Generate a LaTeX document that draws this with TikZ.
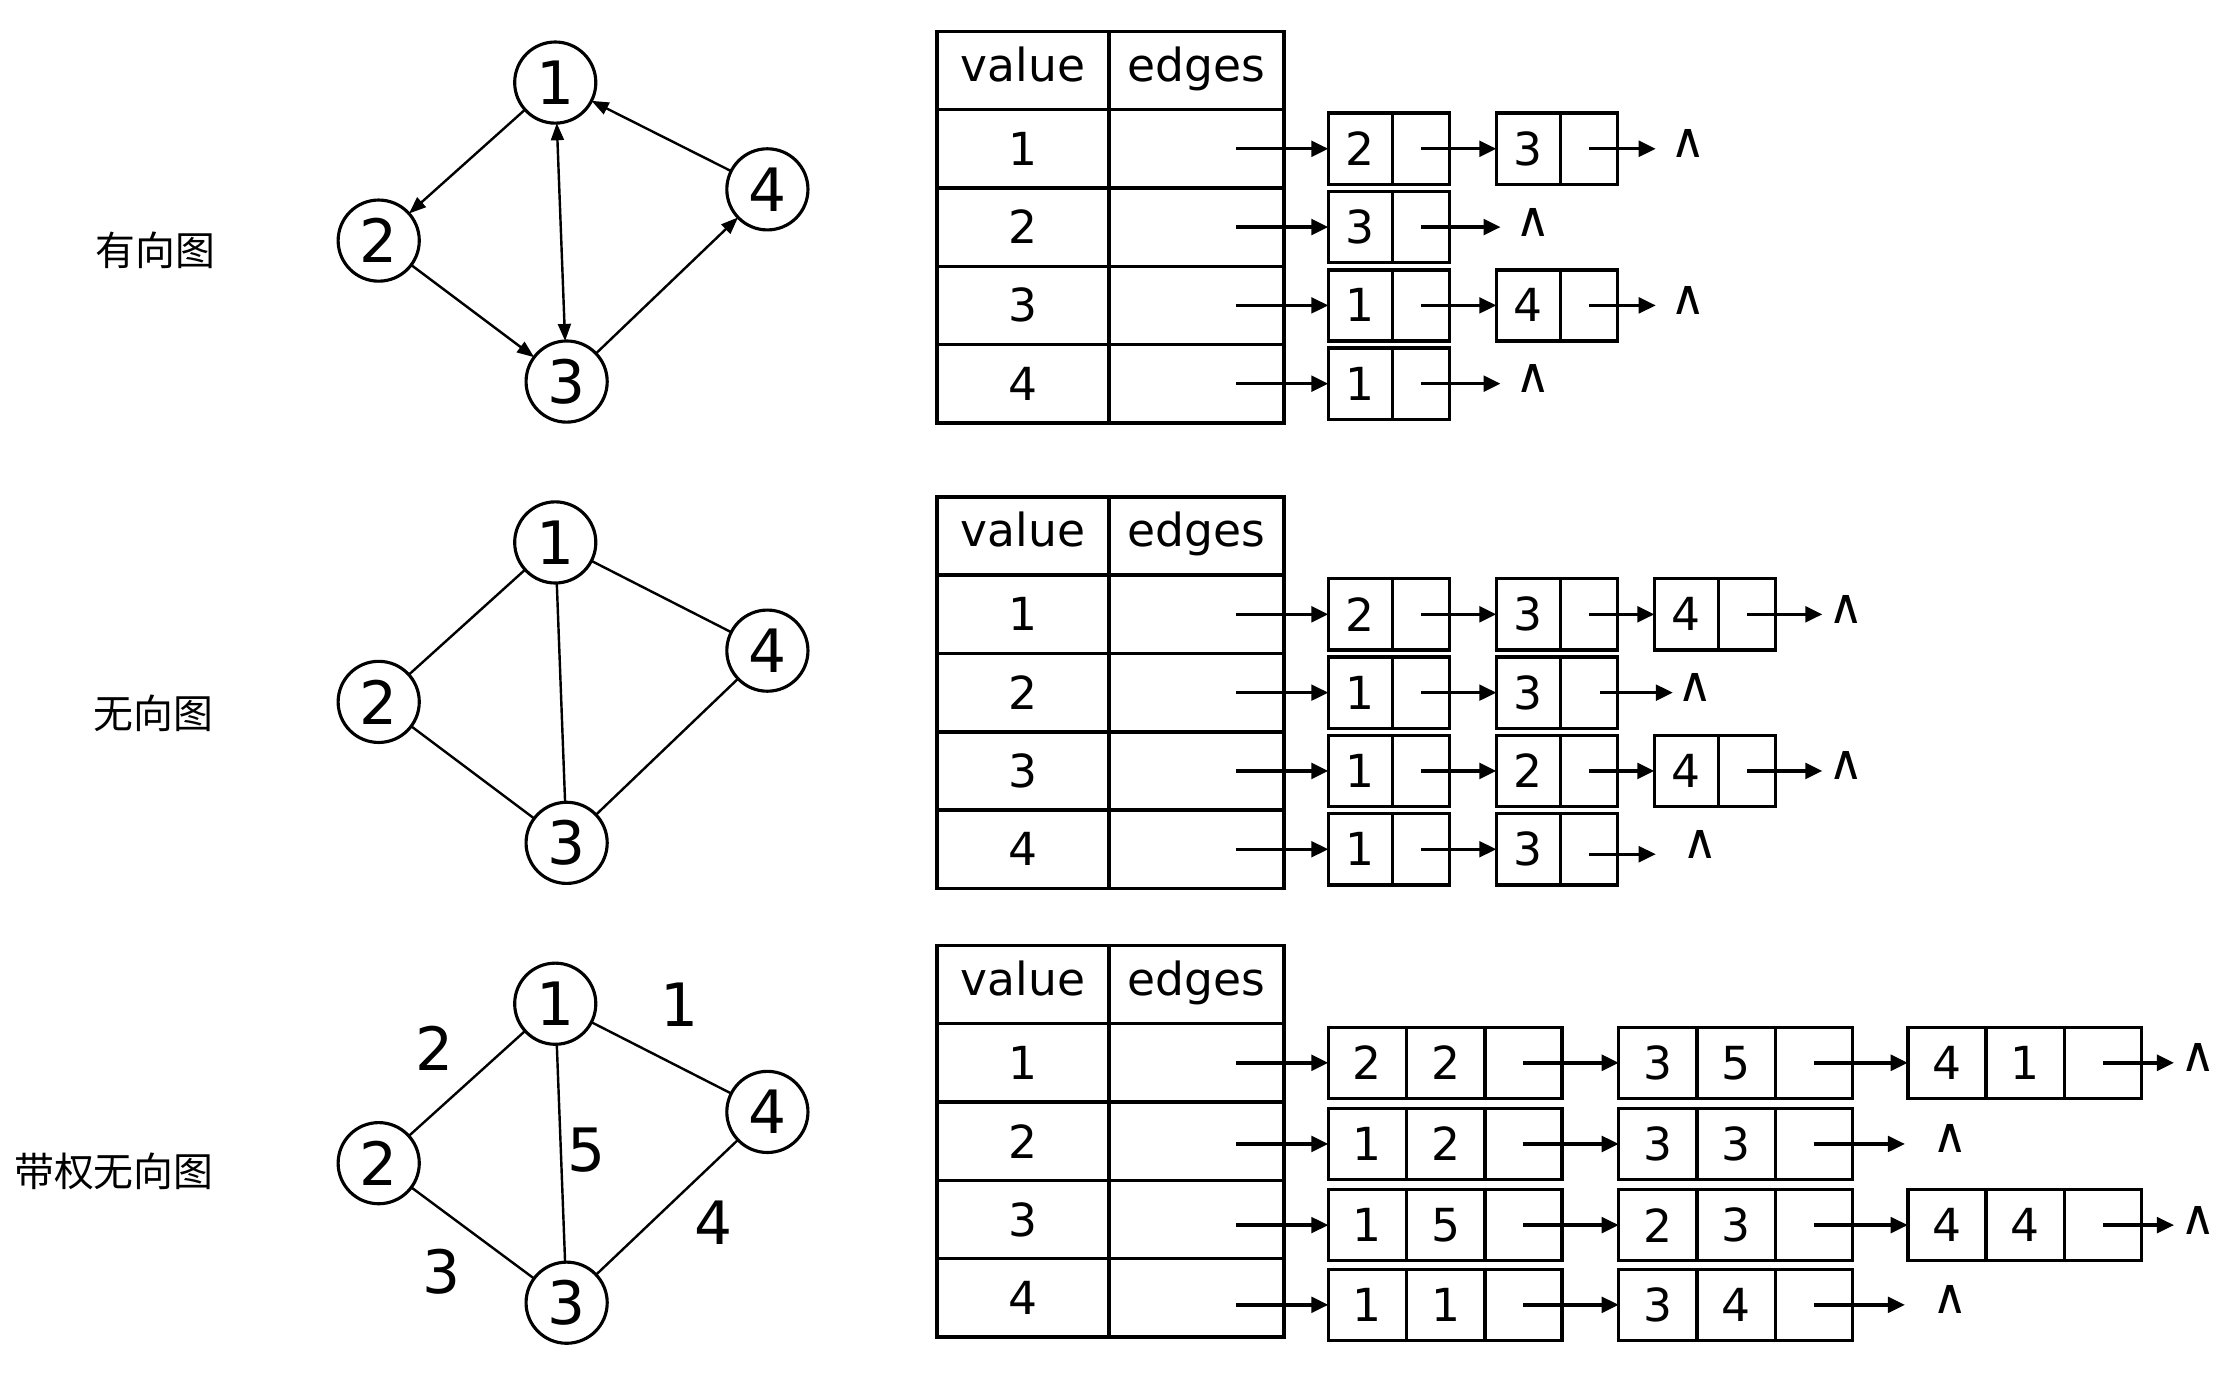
\documentclass[tikz,border=0pt]{standalone}
\usepackage{fontspec}
\setmainfont{DejaVu Sans}
\newfontfamily\cjk{Noto Sans CJK SC}
\usetikzlibrary{arrows.meta,calc}

\newcommand{\gtable}[2]{% prefix, top y
  \node[tcell,hdr,anchor=north west,minimum width=60.5pt] (#1h1) at (658,#2) {value};
  \node[tcell,hdr,anchor=north west,minimum width=61.5pt] (#1h2) at (779,#2) {edges};
  \foreach \i in {1,...,4}{
    \node[tcell,anchor=north west,minimum width=60.5pt] (#1v\i) at (658,{#2+55*\i}) {\i};
    \node[tcell,anchor=north west,minimum width=61.5pt] (#1e\i) at (779,{#2+55*\i}) {};
  }}
\newcommand{\twobox}[4]{% name, x, y, value
  \node[lcell,anchor=west,minimum width=22.5pt] (#1) at (#2,#3) {#4};
  \node[lcell,anchor=west,minimum width=20pt] (#1p) at (#1.east) {};}
\newcommand{\threebox}[5]{% name, x, y, v1, v2
  \node[lcell,anchor=west,minimum width=27.5pt] (#1) at (#2,#3) {#4};
  \node[lcell,anchor=west,minimum width=27.5pt] (#1w) at (#1.east) {#5};
  \node[lcell,anchor=west,minimum width=27pt] (#1p) at (#1w.east) {};}

\begin{document}
\begin{tikzpicture}[x=0.5pt,y=-0.5pt,
  vert/.style={circle,draw,line width=1.1pt,minimum size=28.5pt,inner sep=0pt,outer sep=0pt,
    font=\fontsize{21pt}{21pt}\selectfont},
  gedge/.style={line width=0.85pt},
  garr/.style={gedge,-{Triangle[length=6pt,width=4.5pt]}},
  gdarr/.style={gedge,{Triangle[length=6pt,width=4.5pt]}-{Triangle[length=6pt,width=4.5pt]}},
  wlab/.style={font=\fontsize{21pt}{21pt}\selectfont,inner sep=0pt},
  tcell/.style={draw,line width=1.2pt,minimum height=27.5pt,inner sep=0pt,outer sep=0pt,
    font=\fontsize{16pt}{16pt}\selectfont},
  hdr/.style={text height=0.95em,text depth=0.2em},
  lcell/.style={draw,line width=1.2pt,minimum height=25pt,inner sep=0pt,outer sep=0pt,
    font=\fontsize{16pt}{16pt}\selectfont},
  larr/.style={line width=1.2pt,-{Triangle[length=6pt,width=5.5pt]}},
  nul/.style={inner sep=0pt,font=\fontsize{17pt}{17pt}\selectfont},
  cjklab/.style={font=\cjk\fontsize{14pt}{14pt}\selectfont,inner sep=0pt}]
\useasboundingbox (0,0) rectangle (1560,974);

% ---------------- section 1: directed graph ----------------
\node[cjklab] (L1) at (109,176) {有向图};
\node[vert] (a1) at (390,58) {1};
\node[vert] (a2) at (266,169) {2};
\node[vert] (a3) at (398,268) {3};
\node[vert] (a4) at (539,133) {4};
\draw[garr] (a1) -- (a2);
\draw[garr] (a2) -- (a3);
\draw[gdarr] (a1) -- (a3);
\draw[garr] (a3) -- (a4);
\draw[garr] (a4) -- (a1);

\gtable{A}{22}
\twobox{A1a}{933}{104.5}{2}
\twobox{A1b}{1051}{104.5}{3}
\twobox{A2a}{933}{159.5}{3}
\twobox{A3a}{933}{214.5}{1}
\twobox{A3b}{1051}{214.5}{4}
\twobox{A4a}{933}{269.5}{1}
\foreach \r in {1,...,4}{\draw[larr] ($(Ae\r.east)+(-34,0)$) -- (A\r a.west);}
\draw[larr] (A1ap.center) -- (A1b.west);
\draw[larr] (A3ap.center) -- (A3b.west);
\coordinate (Ae1x) at (1163,104.5);
\coordinate (Ae2x) at (1054,159.5);
\coordinate (Ae3x) at (1163,214.5);
\coordinate (Ae4x) at (1054,269.5);
\draw[larr] (A1bp.center) -- (Ae1x);
\draw[larr] (A2ap.center) -- (Ae2x);
\draw[larr] (A3bp.center) -- (Ae3x);
\draw[larr] (A4ap.center) -- (Ae4x);
\node[nul] (Az1) at (1186,101) {∧};
\node[nul] (Az2) at (1077,156) {∧};
\node[nul] (Az3) at (1186,211) {∧};
\node[nul] (Az4) at (1077,266) {∧};

% ---------------- section 2: undirected graph ----------------
\node[cjklab] (L2) at (108,501) {无向图};
\node[vert] (b1) at (390,381) {1};
\node[vert] (b2) at (266,493) {2};
\node[vert] (b3) at (398,592) {3};
\node[vert] (b4) at (539,457) {4};
\draw[gedge] (b1) -- (b2);
\draw[gedge] (b1) -- (b3);
\draw[gedge] (b1) -- (b4);
\draw[gedge] (b2) -- (b3);
\draw[gedge] (b3) -- (b4);

\gtable{B}{349}
\twobox{B1a}{933}{431.5}{2}
\twobox{B1b}{1051}{431.5}{3}
\twobox{B1c}{1162}{431.5}{4}
\twobox{B2a}{933}{486.5}{1}
\twobox{B2b}{1051}{486.5}{3}
\twobox{B3a}{933}{541.5}{1}
\twobox{B3b}{1051}{541.5}{2}
\twobox{B3c}{1162}{541.5}{4}
\twobox{B4a}{933}{596.5}{1}
\twobox{B4b}{1051}{596.5}{3}
\foreach \r in {1,...,4}{\draw[larr] ($(Be\r.east)+(-34,0)$) -- (B\r a.west);
  \draw[larr] (B\r ap.center) -- (B\r b.west);}
\draw[larr] (B1bp.center) -- (B1c.west);
\draw[larr] (B3bp.center) -- (B3c.west);
\coordinate (Be1x) at (1280,431.5);
\coordinate (Be2x) at (1175,486.5);
\coordinate (Be3x) at (1280,541.5);
\coordinate (Be4x) at (1163,600);
\draw[larr] (B1cp.center) -- (Be1x);
\draw[larr] ([xshift=4pt]B2bp.center) -- (Be2x);
\draw[larr] (B3cp.center) -- (Be3x);
\draw[larr] (B4bp.center |- Be4x) -- (Be4x);
\node[nul] (Bz1) at (1297,428) {∧};
\node[nul] (Bz2) at (1191,483) {∧};
\node[nul] (Bz3) at (1297,538) {∧};
\node[nul] (Bz4) at (1194,593) {∧};

% ---------------- section 3: weighted undirected graph ----------------
\node[cjklab] (L3) at (80,823) {带权无向图};
\node[vert] (c1) at (390,705) {1};
\node[vert] (c2) at (266,817) {2};
\node[vert] (c3) at (398,915) {3};
\node[vert] (c4) at (539,781) {4};
\draw[gedge] (c1) -- (c2);
\draw[gedge] (c1) -- (c3);
\draw[gedge] (c1) -- (c4);
\draw[gedge] (c2) -- (c3);
\draw[gedge] (c3) -- (c4);
\node[wlab] (w12) at (305,736) {2};
\node[wlab] (w14) at (477,706) {1};
\node[wlab] (w13) at (412,808) {5};
\node[wlab] (w23) at (310,893) {3};
\node[wlab] (w34) at (501,859) {4};

\gtable{C}{664}
\threebox{C1a}{933}{746.5}{2}{2}
\threebox{C1b}{1137}{746.5}{3}{5}
\threebox{C1c}{1340}{746.5}{4}{1}
\threebox{C2a}{933}{803.5}{1}{2}
\threebox{C2b}{1137}{803.5}{3}{3}
\threebox{C3a}{933}{860.5}{1}{5}
\threebox{C3b}{1137}{860.5}{2}{3}
\threebox{C3c}{1340}{860.5}{4}{4}
\threebox{C4a}{933}{916.5}{1}{1}
\threebox{C4b}{1137}{916.5}{3}{4}
\foreach \r in {1,...,4}{
  \coordinate (Cs\r) at ($(Ce\r.east)+(-34,0)$);
  \draw[larr] (Cs\r |- C\r a.west) -- (C\r a.west);
  \draw[larr] (C\r ap.center) -- (C\r b.west);}
\draw[larr] (C1bp.center) -- (C1c.west);
\draw[larr] (C3bp.center) -- (C3c.west);
\coordinate (Ce1x) at (1527,746.5);
\coordinate (Ce2x) at (1338,803.5);
\coordinate (Ce3x) at (1527,860.5);
\coordinate (Ce4x) at (1338,916.5);
\draw[larr] (C1cp.center) -- (Ce1x);
\draw[larr] (C2bp.center) -- (Ce2x);
\draw[larr] (C3cp.center) -- (Ce3x);
\draw[larr] (C4bp.center) -- (Ce4x);
\node[nul] (Cz1) at (1544,743) {∧};
\node[nul] (Cz2) at (1370,800) {∧};
\node[nul] (Cz3) at (1544,857) {∧};
\node[nul] (Cz4) at (1370,913) {∧};
\end{tikzpicture}
\end{document}
